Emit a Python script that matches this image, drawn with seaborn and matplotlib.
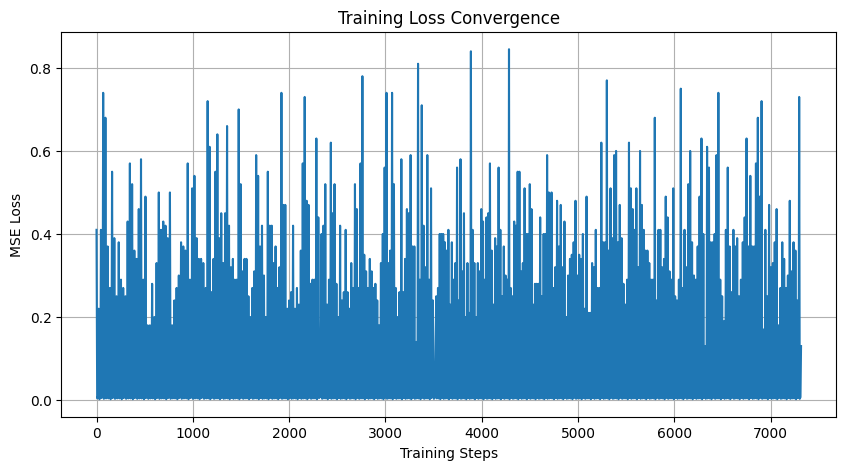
import numpy as np
import pandas as pd
import matplotlib
matplotlib.use("Agg")
import matplotlib.pyplot as plt
import seaborn as sns

# Peak (envelope) loss values, grouped by step range
seg1_steps = (0, 1109)
seg1_peaks = [0.41, 0.22, 0.41, 0.74, 0.68, 0.37, 0.27, 0.55, 0.39, 0.25, 0.38, 0.29, 0.27, 0.25,
              0.43, 0.57, 0.52, 0.36, 0.34, 0.46, 0.58, 0.29, 0.49, 0.18, 0.18, 0.28, 0.20, 0.33,
              0.50, 0.41, 0.43, 0.42, 0.39, 0.50, 0.18, 0.24, 0.27, 0.30, 0.38, 0.37, 0.36, 0.57,
              0.29, 0.51, 0.54, 0.39, 0.34, 0.34, 0.33]
seg2_steps = (1134, 2303)
seg2_peaks = [0.27, 0.72, 0.61, 0.26, 0.34, 0.55, 0.64, 0.39, 0.45, 0.33, 0.45, 0.66, 0.42, 0.32,
              0.34, 0.29, 0.29, 0.70, 0.52, 0.31, 0.34, 0.34, 0.25, 0.20, 0.27, 0.31, 0.59, 0.54,
              0.37, 0.42, 0.30, 0.20, 0.55, 0.42, 0.42, 0.33, 0.37, 0.27, 0.32, 0.74, 0.47, 0.47,
              0.22, 0.24, 0.26, 0.42, 0.22, 0.27, 0.23, 0.36, 0.57, 0.73, 0.48, 0.47, 0.28, 0.29,
              0.29, 0.63, 0.44]
seg3_steps = (2337, 3493)
seg3_peaks = [0.40, 0.42, 0.52, 0.23, 0.29, 0.62, 0.45, 0.52, 0.28, 0.20, 0.42, 0.24, 0.26, 0.41,
              0.26, 0.22, 0.33, 0.27, 0.52, 0.46, 0.27, 0.57, 0.78, 0.35, 0.31, 0.27, 0.34, 0.31,
              0.27, 0.28, 0.24, 0.18, 0.33, 0.40, 0.56, 0.74, 0.33, 0.36, 0.74, 0.52, 0.27, 0.20,
              0.26, 0.58, 0.26, 0.34, 0.46, 0.45, 0.59, 0.37, 0.37, 0.14, 0.81, 0.29, 0.71, 0.42,
              0.32, 0.59, 0.29, 0.51, 0.24]
seg4_steps = (3528, 4697)
seg4_peaks = [0.25, 0.27, 0.40, 0.40, 0.40, 0.38, 0.36, 0.41, 0.23, 0.38, 0.29, 0.33, 0.56, 0.24,
              0.58, 0.31, 0.45, 0.20, 0.33, 0.21, 0.84, 0.41, 0.33, 0.20, 0.33, 0.31, 0.46, 0.43,
              0.29, 0.44, 0.45, 0.57, 0.36, 0.23, 0.39, 0.37, 0.56, 0.41, 0.25, 0.37, 0.30, 0.29,
              0.845, 0.27, 0.25, 0.43, 0.42, 0.55, 0.55, 0.31, 0.33, 0.51, 0.40, 0.40, 0.52, 0.46,
              0.23, 0.28, 0.28, 0.28, 0.44, 0.25, 0.40, 0.40, 0.59, 0.50]
seg5_steps = (4725, 5893)
seg5_peaks = [0.50, 0.27, 0.32, 0.48, 0.37, 0.47, 0.32, 0.43, 0.20, 0.30, 0.34, 0.35, 0.38, 0.48,
              0.30, 0.35, 0.34, 0.40, 0.22, 0.49, 0.21, 0.21, 0.33, 0.32, 0.41, 0.27, 0.27, 0.62,
              0.38, 0.38, 0.77, 0.36, 0.51, 0.39, 0.59, 0.60, 0.38, 0.47, 0.39, 0.28, 0.23, 0.29,
              0.62, 0.51, 0.46, 0.41, 0.51, 0.32, 0.60, 0.47, 0.41, 0.36, 0.36, 0.33, 0.29, 0.29,
              0.68, 0.24, 0.41, 0.41, 0.32, 0.34]
seg6_steps = (5911, 7316)
seg6_peaks = [0.49, 0.44, 0.31, 0.29, 0.51, 0.25, 0.24, 0.29, 0.75, 0.27, 0.41, 0.32, 0.52, 0.60,
              0.38, 0.30, 0.29, 0.37, 0.49, 0.63, 0.40, 0.13, 0.61, 0.56, 0.38, 0.38, 0.40, 0.59,
              0.74, 0.29, 0.25, 0.19, 0.41, 0.56, 0.37, 0.26, 0.41, 0.37, 0.39, 0.25, 0.29, 0.38,
              0.44, 0.63, 0.37, 0.54, 0.37, 0.37, 0.57, 0.68, 0.49, 0.72, 0.17, 0.41, 0.25, 0.47,
              0.32, 0.33, 0.38, 0.46, 0.18, 0.27, 0.38, 0.34, 0.27, 0.30, 0.48, 0.31, 0.38, 0.36,
              0.24, 0.73, 0.13]
# Troughs between peaks (near-zero floor seen along the bottom edge)
floor_vals = [0.004, 0.009, 0.002, 0.006, 0.005, 0.010, 0.003, 0.007, 0.004, 0.008]

segments = [(seg1_steps, seg1_peaks), (seg2_steps, seg2_peaks), (seg3_steps, seg3_peaks),
            (seg4_steps, seg4_peaks), (seg5_steps, seg5_peaks), (seg6_steps, seg6_peaks)]

peak_x, peak_y = [], []
for (s0, s1), vals in segments:
    peak_x.extend(np.linspace(s0, s1, len(vals)))
    peak_y.extend(vals)

xs, ys = [], []
k = 0
for i in range(len(peak_x)):
    xs.append(peak_x[i]); ys.append(peak_y[i])
    if i < len(peak_x) - 1:
        a, b = peak_x[i], peak_x[i + 1]
        for frac in (0.3, 0.7):
            xs.append(a + (b - a) * frac)
            ys.append(floor_vals[k % len(floor_vals)])
            k += 1

df = pd.DataFrame({"step": xs, "loss": ys})

fig, ax = plt.subplots(figsize=(10, 5), dpi=100)
sns.lineplot(data=df, x="step", y="loss", ax=ax, estimator=None, sort=True,
             color="#1f77b4", linewidth=1.5)
ax.set_title("Training Loss Convergence")
ax.set_xlabel("Training Steps")
ax.set_ylabel("MSE Loss")
ax.grid(True)
fig.savefig("out.png", dpi=100, bbox_inches="tight")
